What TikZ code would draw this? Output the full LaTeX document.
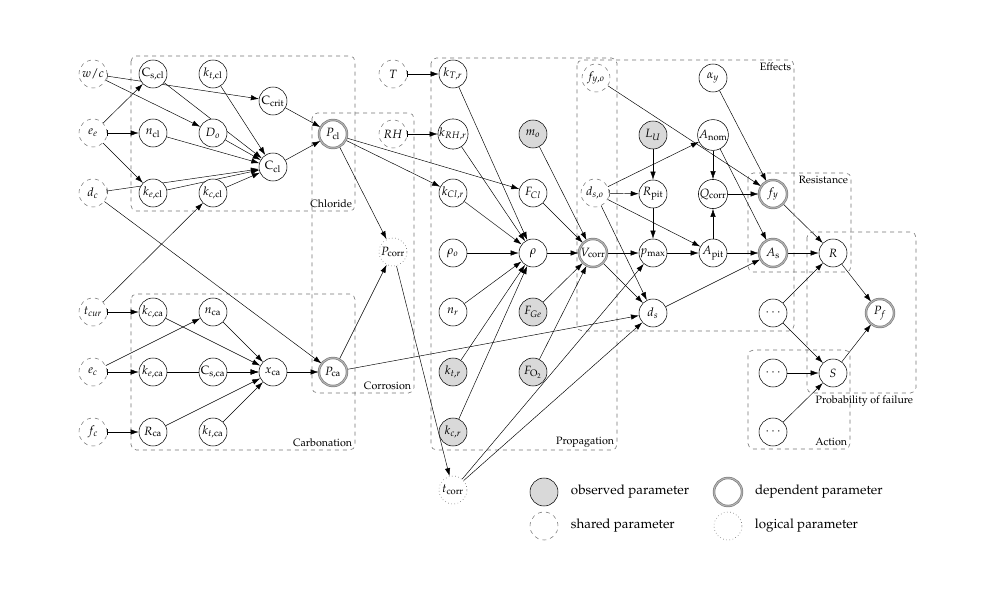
\documentclass[tikz,border=0pt]{standalone}
\usepackage[T1]{fontenc}
\usepackage{mathpazo}
\usetikzlibrary{arrows.meta,positioning,backgrounds}

\tikzset{
  param/.style={circle,draw,fill=white,minimum size=21pt,inner sep=0pt,font=\small},
  shared/.style={param,draw=gray!90!black,dashed},
  observed/.style={param,fill=gray!30},
  dependent/.style={param,draw=gray,double=gray!55,double distance=0.7pt,line width=0.55pt},
  logical/.style={param,draw=black!75,dotted},
  link/.style={-{Latex[length=6pt,width=4pt]},line width=0.35pt},
  barlink/.style={arrows={Bar[width=5pt]-Latex[length=6pt,width=4pt]},line width=0.35pt},
  groupbox/.style={draw=gray!90!black,dashed,rounded corners=4pt,line width=0.45pt},
  grouplabel/.style={font=\footnotesize,inner sep=2pt}
}

\begin{document}
\begin{tikzpicture}[x=0.75pt,y=0.75pt,yscale=-1,xscale=1]
\useasboundingbox (0,0) rectangle (1000,600);

%shared inputs
\node[shared] (wc) at (93,74) {$w/c$};
\node[shared] (ee) at (93,133) {$e_e$};
\node[shared] (dc) at (93,193) {$d_c$};
\node[shared] (tcur) at (93,312) {$t_{cur}$};
\node[shared] (ec) at (93,372) {$e_c$};
\node[shared] (fc) at (93,432) {$f_c$};

%Chloride
\node[param] (cscl) at (153,74) {$\mathrm{C}_{\mathrm{s,cl}}$};
\node[param] (ktcl) at (213,74) {$k_{t,\mathrm{cl}}$};
\node[param] (ccrit) at (273,101) {$\mathrm{C}_{\mathrm{crit}}$};
\node[param] (ncl) at (153,133) {$n_{\mathrm{cl}}$};
\node[param] (Do) at (213,133) {$D_o$};
\node[param] (ccl) at (273,167) {$\mathrm{C}_{\mathrm{cl}}$};
\node[param] (kecl) at (153,193) {$k_{e,\mathrm{cl}}$};
\node[param] (kccl) at (213,193) {$k_{c,\mathrm{cl}}$};

%Carbonation
\node[param] (kcca) at (153,312) {$k_{c,\mathrm{ca}}$};
\node[param] (nca) at (213,312) {$n_{\mathrm{ca}}$};
\node[param] (keca) at (153,372) {$k_{e,\mathrm{ca}}$};
\node[param] (csca) at (213,372) {$\mathrm{C}_{\mathrm{s,ca}}$};
\node[param] (xca) at (273,372) {$x_{\mathrm{ca}}$};
\node[param] (rca) at (153,432) {$R_{\mathrm{ca}}$};
\node[param] (ktca) at (213,432) {$k_{t,\mathrm{ca}}$};

%Corrosion
\node[dependent] (pcl) at (333,134) {$P_{\mathrm{cl}}$};
\node[dependent] (pca) at (333,372) {$P_{\mathrm{ca}}$};
\node[logical] (pcorr) at (393,252) {$P_{\mathrm{corr}}$};
\node[logical] (tcorr) at (453,490) {$t_{\mathrm{corr}}$};
\node[shared] (T) at (393,74) {$T$};
\node[shared] (RH) at (393,134) {$RH$};

%Propagation
\node[param] (kTr) at (453,74) {$k_{T,r}$};
\node[param] (kRHr) at (453,134) {$k_{RH,r}$};
\node[param] (kClr) at (453,193) {$k_{Cl,r}$};
\node[param] (rhoo) at (453,253) {$\rho_o$};
\node[param] (nr) at (453,312) {$n_r$};
\node[observed] (ktr) at (453,372) {$k_{t,r}$};
\node[observed] (kcr) at (453,432) {$k_{c,r}$};
\node[observed] (mo) at (533,134) {$m_o$};
\node[param] (FCl) at (533,193) {$F_{Cl}$};
\node[param] (rho) at (533,253) {$\rho$};
\node[observed] (FGe) at (533,312) {$F_{Ge}$};
\node[observed] (FO2) at (533,372) {$F_{\mathrm{O}_2}$};
\node[dependent] (Vcorr) at (593,253) {$V_{\mathrm{corr}}$};

%Effects
\node[shared] (fyo) at (596,78) {$f_{y,o}$};
\node[shared] (dso) at (595,193) {$d_{s,o}$};
\node[observed] (LU) at (653,135) {$L_U$};
\node[param] (Rpit) at (653,194) {$R_{\mathrm{pit}}$};
\node[param] (pmax) at (653,253) {$p_{\max}$};
\node[param] (ds) at (653,313) {$d_s$};
\node[param] (alphay) at (713,78) {$\alpha_y$};
\node[param] (Anom) at (713,135) {$A_{\mathrm{nom}}$};
\node[param] (Qcorr) at (713,194) {$Q_{\mathrm{corr}}$};
\node[param] (Apit) at (713,253) {$A_{\mathrm{pit}}$};

%Resistance, Action, Probability of failure
\node[dependent] (fy) at (773,194) {$f_y$};
\node[dependent] (As) at (773,253) {$A_{\mathrm{s}}$};
\node[param] (dotsa) at (773,313) {$\cdots$};
\node[param] (dotsb) at (773,373) {$\cdots$};
\node[param] (dotsc) at (773,432) {$\cdots$};
\node[param] (R) at (833,253) {$R$};
\node[param] (S) at (833,373) {$S$};
\node[dependent] (Pf) at (880,313) {$P_f$};

\begin{pgfonlayer}{background}
%group boxes
\draw[groupbox] (131,56) rectangle (355,211);
\node[grouplabel,anchor=south east] (lchl) at (355,211) {Chloride};
\draw[groupbox] (131,294) rectangle (355,450);
\node[grouplabel,anchor=south east] (lcarb) at (355,450) {Carbonation};
\draw[groupbox] (312,113) rectangle (414,393);
\node[grouplabel,anchor=south east] (lcorr) at (414,393) {Corrosion};
\draw[groupbox] (431,58) rectangle (617,450);
\node[grouplabel,anchor=south east] (lprop) at (617,450) {Propagation};
\draw[groupbox] (577,60) rectangle (794,331);
\node[grouplabel,anchor=north east] (leff) at (794,60) {Effects};
\draw[groupbox] (748,173) rectangle (851,272);
\node[grouplabel,anchor=north east] (lres) at (851,173) {Resistance};
\draw[groupbox] (807,232) rectangle (916,393);
\node[grouplabel,anchor=north east] (lpf) at (916,393) {Probability of failure};
\draw[groupbox] (748,350) rectangle (850,449);
\node[grouplabel,anchor=south east] (lact) at (850,449) {Action};

%Chloride links
\draw[link] (ee) -- (cscl);
\draw[barlink] (ee) -- (ncl);
\draw[link] (ee) -- (kecl);
\draw[barlink] (wc) -- (ccrit);
\draw[link] (wc) -- (Do);
\draw[barlink] (dc) -- (ccl);
\draw[link] (dc) -- (pca);
\draw[link] (tcur) -- (kccl);
\foreach \src in {cscl,ktcl,ncl,Do,kecl,kccl}
  \draw[link] (\src) -- (ccl);
\draw[link] (ccrit) -- (pcl);
\draw[link] (ccl) -- (pcl);

%Carbonation links
\draw[barlink] (tcur) -- (kcca);
\draw[link] (ec) -- (nca);
\draw[barlink] (ec) -- (keca);
\draw[barlink] (fc) -- (rca);
\foreach \src in {kcca,nca,keca,csca,rca,ktca}
  \draw[link] (\src) -- (xca);
\draw[link] (xca) -- (pca);

%Corrosion links
\draw[link] (pcl) -- (pcorr);
\draw[link] (pca) -- (pcorr);
\draw[link] (pcorr) -- (tcorr);
\draw[link] (pcl) -- (kClr);
\draw[link] (pcl) -- (FCl);
\draw[link] (pca) -- (ds);

%Propagation links
\draw[barlink] (T) -- (kTr);
\draw[barlink] (RH) -- (kRHr);
\foreach \src in {kTr,kRHr,kClr,rhoo,nr,ktr,kcr}
  \draw[link] (\src) -- (rho);
\foreach \src in {mo,FCl,rho,FGe,FO2}
  \draw[link] (\src) -- (Vcorr);
\draw[link] (tcorr) -- (pmax);
\draw[link] (tcorr) -- (ds);

%Effects links
\draw[link] (Vcorr) -- (pmax);
\draw[link] (Vcorr) -- (ds);
\draw[link] (LU) -- (Rpit);
\draw[link] (Rpit) -- (pmax);
\draw[link] (pmax) -- (Apit);
\draw[barlink] (dso) -- (Rpit);
\draw[link] (dso) -- (Anom);
\draw[link] (dso) -- (Apit);
\draw[link] (dso) -- (ds);
\draw[link] (Anom) -- (Qcorr);
\draw[link] (Apit) -- (Qcorr);
\draw[link] (Qcorr) -- (fy);
\draw[link] (Anom) -- (As);
\draw[link] (Apit) -- (As);
\draw[link] (fyo) -- (fy);
\draw[link] (alphay) -- (fy);
\draw[link] (ds) -- (As);

%Resistance, Action, Probability of failure links
\draw[link] (fy) -- (R);
\draw[link] (As) -- (R);
\draw[link] (dotsa) -- (R);
\draw[link] (dotsa) -- (S);
\draw[link] (dotsb) -- (S);
\draw[link] (dotsc) -- (S);
\draw[link] (R) -- (Pf);
\draw[link] (S) -- (Pf);
\end{pgfonlayer}

%legend
\node[observed] (lobs) at (544,492) {};
\node[right=6pt of lobs] (tobs) {observed parameter};
\node[dependent] (ldep) at (728,492) {};
\node[right=6pt of ldep] (tdep) {dependent parameter};
\node[shared] (lsha) at (544,526) {};
\node[right=6pt of lsha] (tsha) {shared parameter};
\node[logical] (llog) at (728,526) {};
\node[right=6pt of llog] (tlog) {logical parameter};

\end{tikzpicture}
\end{document}
